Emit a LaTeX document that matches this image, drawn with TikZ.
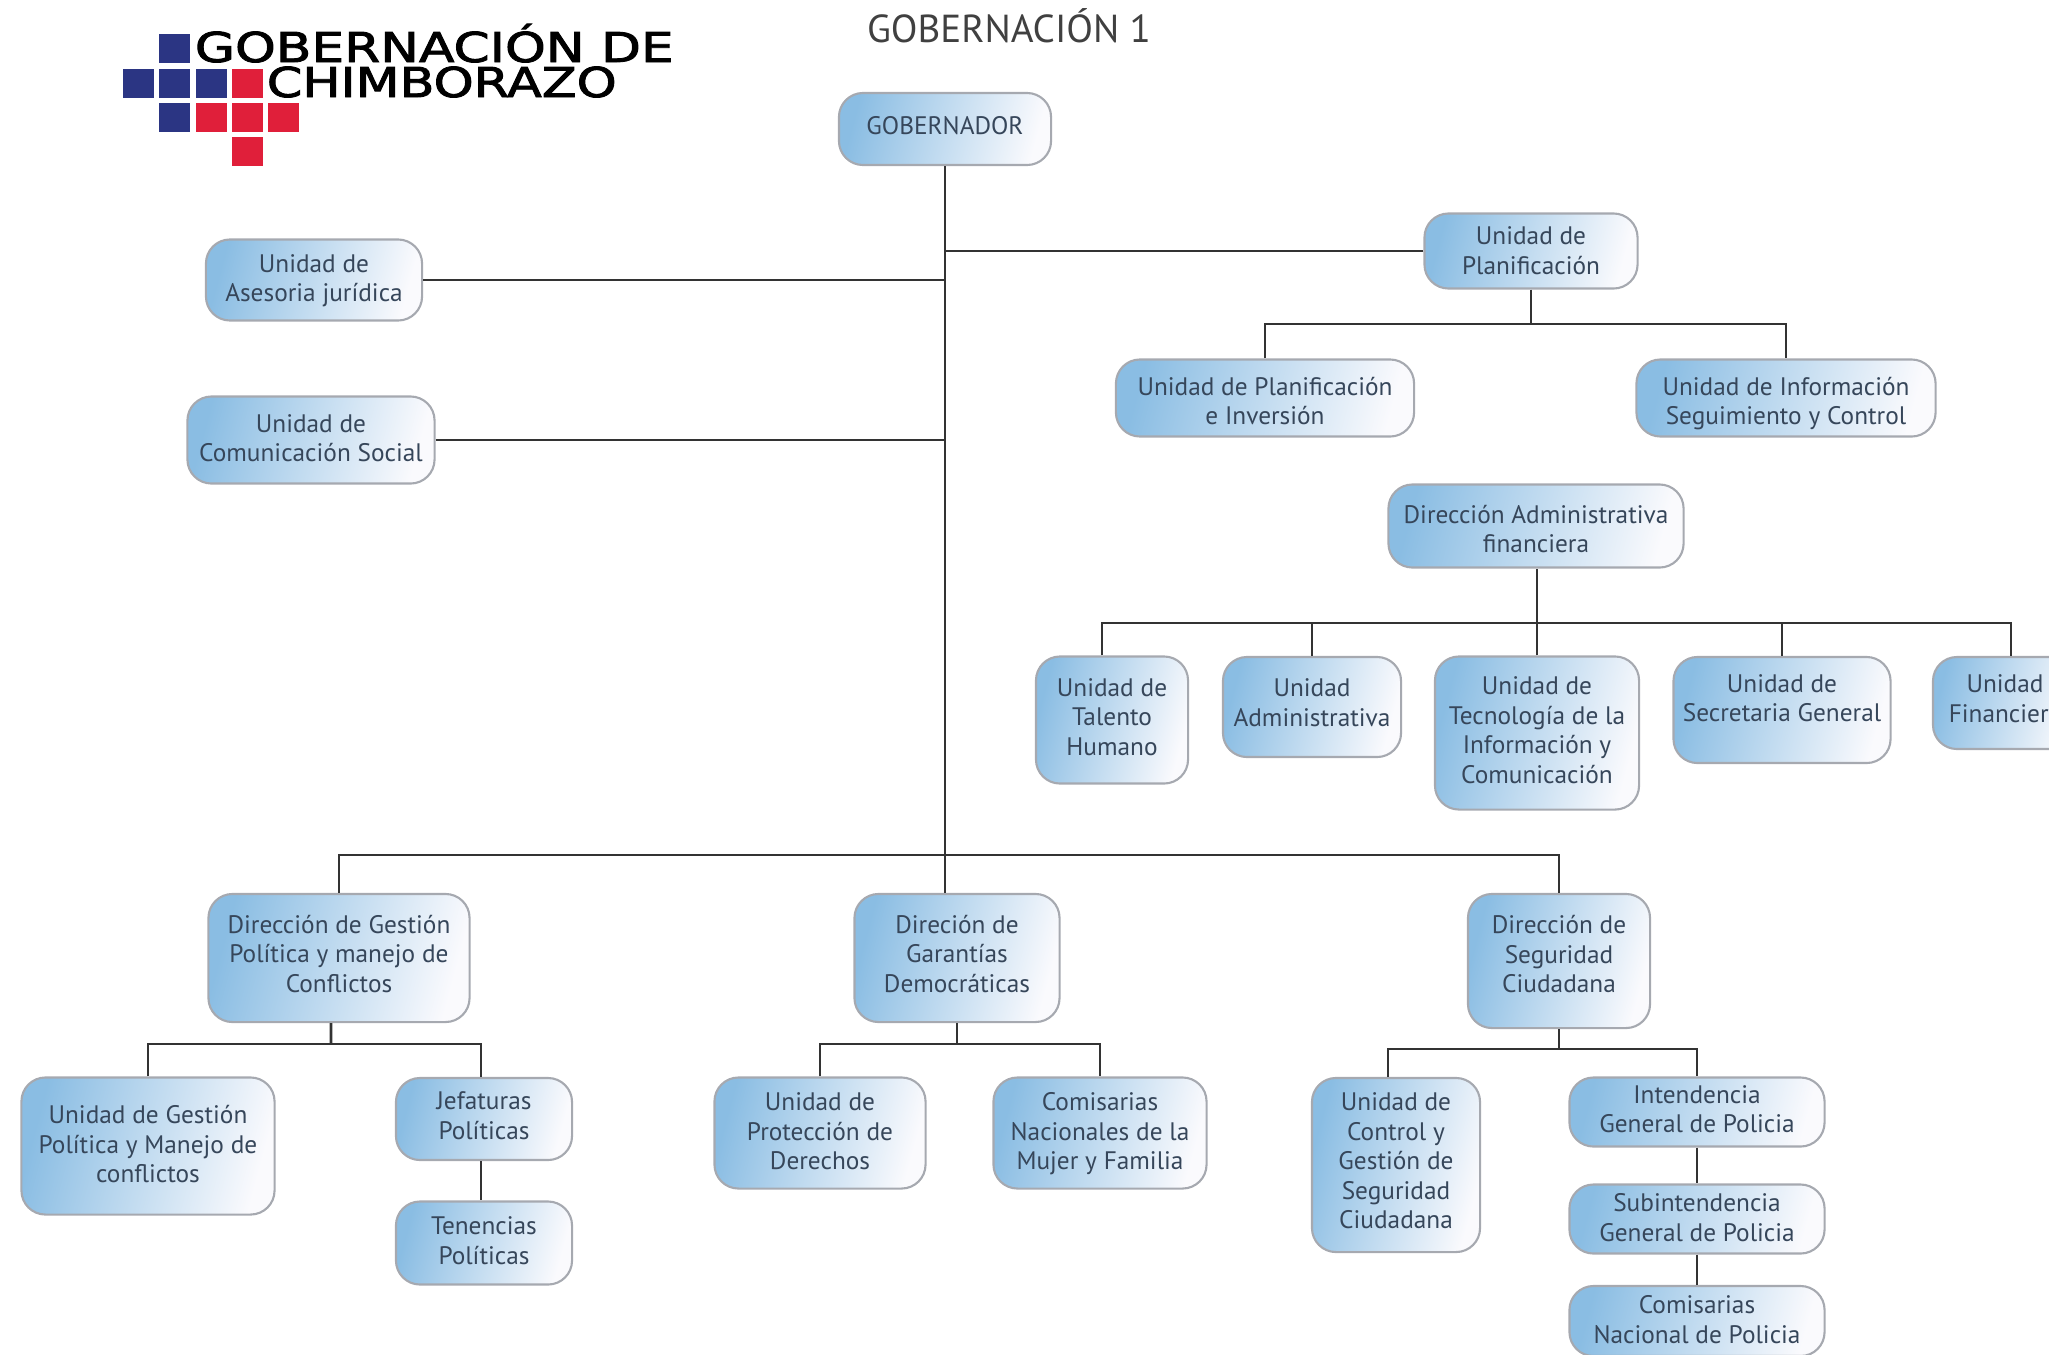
\documentclass[tikz,border=0pt]{standalone}
\usepackage{fontspec}
\usepackage{xcolor}
\usepackage{tikz}
\usetikzlibrary{positioning,calc}
\setmainfont{PT Sans}
\newfontfamily\logofont[FakeBold=2]{DejaVu Sans}
\definecolor{boxblue}{HTML}{8ABDE3}
\definecolor{boxwhite}{HTML}{FAFAFD}
\definecolor{boxedge}{HTML}{A6A9B0}
\definecolor{boxtext}{HTML}{36465A}
\definecolor{logoblue}{HTML}{2B3583}
\definecolor{logored}{HTML}{E01F3A}
\tikzset{
    orgbox/.style={draw=boxedge, line width=0.6pt, rounded corners=0.24cm, left color=boxblue, right color=boxwhite, shading angle=75, align=center, inner sep=0pt, text=boxtext, font=\fontsize{7.2}{8.4}\selectfont, text depth=1.02pt},
    link/.style={draw=black!80, line width=0.8pt},
    logocell/.style={minimum width=0.315cm, minimum height=0.29cm, inner sep=0pt, anchor=north west},
    logotext/.style={anchor=base west, inner sep=0pt, font=\logofont\fontsize{11.7}{12}\selectfont}
}

\begin{document}
\begin{tikzpicture}[x=0.01cm, y=-0.01cm]
    \clip (0,0) rectangle (2049,1354);

    % logo
    \foreach \cx/\cy in {158/33,122/68,158/68,195/68,158/102}
        \node[logocell, fill=logoblue] at (\cx,\cy) {};
    \foreach \cx/\cy in {231/68,195/102,231/102,267/102,231/136}
        \node[logocell, fill=logored] at (\cx,\cy) {};
    \node[logotext, xscale=1.26] (logoa) at (194,62) {GOBERNACIÓN DE};
    \node[logotext, xscale=1.237] (logob) at (266,97) {CHIMBORAZO};
    \node[text=black!75, inner sep=0pt, font=\fontsize{11.1}{13}\selectfont] (title) at (1009,26) {GOBERNACIÓN 1};

    % top
    \node[orgbox, text height=5.88pt, text depth=2.52pt, minimum width=2.12cm, minimum height=0.72cm] (gob) at (945,129) {GOBERNADOR};
    \node[orgbox, minimum width=2.16cm, minimum height=0.81cm] (asesoria) at (314,280) {Unidad de\\Asesoria jurídica};
    \node[orgbox, minimum width=2.47cm, minimum height=0.87cm] (social) at (311,440) {Unidad de\\Comunicación Social};
    \node[orgbox, text depth=0.3pt, minimum width=2.13cm, minimum height=0.75cm] (plan) at (1531,251) {Unidad de\\Planificación};
    \node[orgbox, text height=15.3pt, text depth=0pt, minimum width=2.98cm, minimum height=0.77cm] (inversion) at (1265,398) {Unidad de Planificación\\e Inversión};
    \node[orgbox, text height=15.3pt, text depth=0pt, minimum width=2.99cm, minimum height=0.77cm] (info) at (1786,398) {Unidad de Información\\Seguimiento y Control};

    % administrativa
    \node[orgbox, text height=15.3pt, text depth=0pt, minimum width=2.95cm, minimum height=0.83cm] (admin) at (1536,526) {Dirección Administrativa\\financiera};
    \node[orgbox, text depth=1.82pt, minimum width=1.52cm, minimum height=1.27cm] (talento) at (1112,720) {Unidad de\\Talento\\Humano};
    \node[orgbox, text depth=2.52pt, minimum width=1.78cm, minimum height=1.00cm] (unadmin) at (1312,707) {Unidad\\Administrativa};
    \node[orgbox, text depth=1.82pt, minimum width=2.04cm, minimum height=1.53cm] (tecno) at (1537,733) {Unidad de\\Tecnología de la\\Información y\\Comunicación};
    \node[orgbox, text depth=6.9pt, minimum width=2.17cm, minimum height=1.06cm] (secre) at (1782,710) {Unidad de\\Secretaria General};
    \node[orgbox, text depth=2.52pt, minimum width=1.44cm, minimum height=0.92cm] (finan) at (2005,703) {Unidad\\Financiera};

    % direcciones
    \node[orgbox, text depth=2.52pt, minimum width=2.61cm, minimum height=1.28cm] (gestion) at (339,958) {Dirección de Gestión\\Política y manejo de\\Conflictos};
    \node[orgbox, text depth=2.52pt, minimum width=2.05cm, minimum height=1.28cm] (garantias) at (957,958) {Direción de\\Garantías\\Democráticas};
    \node[orgbox, text depth=4pt, minimum width=1.82cm, minimum height=1.34cm] (seguridad) at (1559,961) {Dirección de\\Seguridad\\Ciudadana};

    \node[orgbox, minimum width=2.53cm, minimum height=1.37cm] (ungestion) at (148,1146) {Unidad de Gestión\\Política y Manejo de\\conflictos};
    \node[orgbox, text depth=1.82pt, minimum width=1.76cm, minimum height=0.82cm] (jefaturas) at (484,1119) {Jefaturas\\Políticas};
    \node[orgbox, text depth=1.42pt, minimum width=1.76cm, minimum height=0.83cm] (tenencias) at (484,1243) {Tenencias\\Políticas};
    \node[orgbox, minimum width=2.11cm, minimum height=1.11cm] (derechos) at (820,1133) {Unidad de\\Protección de\\Derechos};
    \node[orgbox, minimum width=2.13cm, minimum height=1.11cm] (mujer) at (1100,1133) {Comisarias\\Nacionales de la\\Mujer y Familia};
    \node[orgbox, text depth=2.52pt, minimum width=1.68cm, minimum height=1.74cm] (control) at (1396,1165) {Unidad de\\Control y\\Gestión de\\Seguridad\\Ciudadana};
    \node[orgbox, text depth=1.82pt, minimum width=2.55cm, minimum height=0.69cm] (intend) at (1697,1112) {Intendencia\\General de Policia};
    \node[orgbox, minimum width=2.55cm, minimum height=0.69cm] (subint) at (1697,1219) {Subintendencia\\General de Policia};
    \node[orgbox, minimum width=2.55cm, minimum height=0.70cm] (nacional) at (1697,1321) {Comisarias\\Nacional de Policia};

    % buses
    \coordinate (busmain) at (945,855);
    \coordinate (busplan) at (1531,324);
    \coordinate (busadmin) at (1537,623);
    \coordinate (busgestion) at (331,1044);
    \coordinate (busgarant) at (957,1044);
    \coordinate (busseg) at (1559,1049);

    \draw[link] (gob.south) -- (garantias.north -| gob.south);
    \draw[link] (gestion.north) |- (busmain) -| (seguridad.north);
    \draw[link] (asesoria.east) -- (asesoria.east -| gob.south);
    \draw[link] (social.east) -- (social.east -| gob.south);
    \draw[link] (plan.west) -- (plan.west -| gob.south);

    \draw[link] (plan.south) -- (busplan);
    \draw[link] (inversion.north) |- (busplan) -| (info.north);

    \draw[link] (tecno.north) -- (tecno.north |- admin.south);
    \draw[link] ([xshift=-0.1cm]talento.north) |- (busadmin) -| ([xshift=0.06cm]finan.north);
    \draw[link] (unadmin.north) -- (unadmin.north |- busadmin);
    \draw[link] (secre.north) -- (secre.north |- busadmin);

    \draw[link] ([xshift=-0.08cm]gestion.south) -- (busgestion);
    \draw[link] (ungestion.north) |- (busgestion) -| ([xshift=-0.03cm]jefaturas.north);
    \draw[link] ([xshift=-0.03cm]jefaturas.south) -- ([xshift=-0.03cm]tenencias.north);

    \draw[link] (garantias.south) -- (busgarant);
    \draw[link] (derechos.north) |- (busgarant) -| (mujer.north);

    \draw[link] (seguridad.south) -- (busseg);
    \draw[link] ([xshift=-0.08cm]control.north) |- (busseg) -| (intend.north);
    \draw[link] (intend.south) -- (subint.north);
    \draw[link] (subint.south) -- (nacional.north);
\end{tikzpicture}
\end{document}
